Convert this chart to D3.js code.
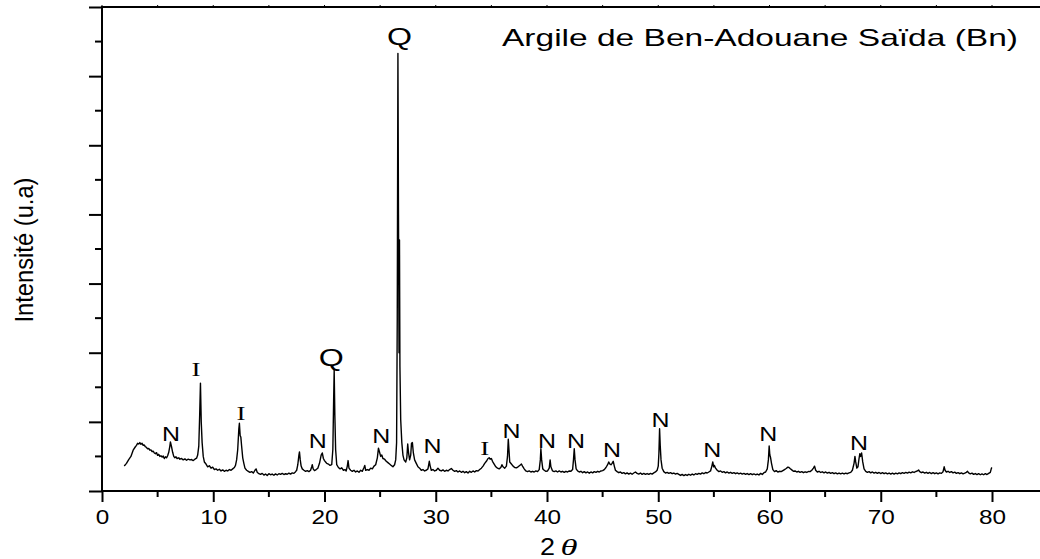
<!DOCTYPE html>
<html>
<head>
<meta charset="utf-8">
<script src="https://cdn.jsdelivr.net/npm/d3@7"></script>
<style>
  body { margin: 0; background: #fff; }
  svg { display: block; }
</style>
</head>
<body>
<svg id="chart" width="1040" height="559"></svg>
<script>
// XRD scan, [2theta, intensity (a.u.)]
var scan = [
[2.0,362],[2.2,400],[2.4,455],[2.6,500],[2.8,590],[3.0,640],[3.1,660],[3.2,690],[3.3,680],[3.4,700],[3.5,675],[3.6,690],[3.7,660],[3.8,665],[3.9,640],[4.0,630],[4.1,610],[4.2,615],[4.3,590],[4.4,595],[4.5,570],[4.6,575],[4.7,550],[4.8,540],[4.9,555],[5.0,515],[5.1,530],[5.2,500],[5.3,510],[5.4,490],[5.5,505],[5.6,470],[5.7,495],[5.8,480],[5.9,510],[6.0,560],[6.1,650],[6.15,710],[6.25,640],[6.35,560],[6.45,500],[6.55,480],[6.65,495],[6.75,470],[6.9,480],[7.0,460],[7.15,470],[7.3,450],[7.45,465],[7.6,445],[7.75,460],[7.9,450],[8.05,455],[8.2,440],[8.35,460],[8.5,475],[8.6,520],[8.7,650],[8.78,1100],[8.85,1560],[8.92,1000],[9.0,700],[9.1,500],[9.2,420],[9.35,390],[9.5,350],[9.65,365],[9.8,330],[9.95,345],
[10.1,310],[10.25,320],[10.4,300],[10.55,315],[10.7,290],[10.85,305],[11.0,285],[11.15,300],[11.3,290],[11.45,310],[11.6,300],[11.75,320],[11.9,340],[12.0,370],[12.1,450],[12.2,600],[12.3,900],[12.35,980],[12.42,800],[12.48,780],[12.55,650],[12.65,480],[12.75,400],[12.85,330],[13.0,300],[13.15,285],[13.3,270],[13.45,280],[13.6,260],[13.75,300],[13.85,320],[13.95,270],[14.1,250],[14.25,240],[14.4,255],[14.55,230],[14.7,245],[14.85,225],[15.0,250],[15.15,235],[15.3,245],[15.45,228],[15.6,248],[15.75,232],[15.9,250],[16.05,240],[16.2,255],[16.35,238],[16.5,250],[16.65,242],[16.8,258],[16.95,245],[17.1,262],[17.25,255],[17.4,280],[17.5,300],[17.6,380],[17.7,520],[17.75,565],[17.82,450],[17.9,360],[18.0,320],[18.15,300],[18.3,285],[18.45,295],[18.6,280],[18.75,300],[18.85,350],[18.9,380],[18.98,320],[19.1,295],[19.25,310],[19.4,330],[19.55,400],[19.7,520],[19.8,550],[19.9,470],
[20.0,440],[20.1,420],[20.2,400],[20.35,390],[20.5,370],[20.65,380],[20.75,600],[20.82,1300],[20.87,1750],[20.93,1100],[21.0,600],[21.1,380],[21.25,340],[21.4,320],[21.55,335],[21.7,300],[21.85,310],[21.95,290],[22.05,360],[22.12,440],[22.2,330],[22.35,300],[22.5,285],[22.65,300],[22.8,275],[22.95,290],[23.1,270],[23.25,300],[23.4,285],[23.55,340],[23.62,370],[23.7,300],[23.85,310],[24.0,300],[24.15,330],[24.3,320],[24.45,360],[24.6,380],[24.75,480],[24.85,620],[24.95,560],[25.05,500],[25.15,520],[25.25,470],[25.4,460],[25.55,430],[25.7,410],[25.85,390],[26.0,370],[26.15,350],[26.3,380],[26.4,450],[26.48,700],[26.54,2500],[26.6,6330],[26.65,4000],[26.7,2000],[26.74,3630],[26.78,1800],[26.85,1030],[26.95,700],[27.05,520],[27.15,450],[27.3,420],[27.4,480],[27.48,680],[27.55,560],[27.65,450],[27.75,520],[27.82,690],[27.9,700],[27.98,560],[28.1,450],[28.25,400],[28.4,350],[28.55,330],[28.7,300],[28.85,310],[29.0,290],[29.15,300],[29.3,320],[29.42,430],[29.5,360],[29.6,300],[29.75,310],[29.9,290],
[30.05,300],[30.2,330],[30.35,300],[30.5,290],[30.65,305],[30.8,285],[30.95,300],[31.1,290],[31.25,310],[31.4,325],[31.55,300],[31.7,285],[31.85,295],[32.0,275],[32.15,290],[32.3,270],[32.45,285],[32.6,265],[32.75,280],[32.9,260],[33.05,285],[33.2,270],[33.35,290],[33.5,275],[33.65,295],[33.8,290],[33.95,310],[34.1,330],[34.25,360],[34.4,400],[34.55,430],[34.7,470],[34.8,480],[34.9,460],[35.0,470],[35.1,430],[35.25,390],[35.4,350],[35.55,330],[35.7,320],[35.85,340],[35.95,380],[36.05,350],[36.2,330],[36.35,360],[36.45,500],[36.52,750],[36.58,600],[36.65,420],[36.8,390],[36.95,360],[37.1,340],[37.25,335],[37.4,350],[37.55,370],[37.7,390],[37.8,360],[37.95,320],[38.1,290],[38.25,280],[38.4,290],[38.55,275],[38.7,285],[38.85,275],[39.0,290],[39.15,280],[39.3,310],[39.4,450],[39.45,610],[39.52,450],[39.62,320],[39.75,300],[39.9,285],
[40.05,290],[40.2,330],[40.28,450],[40.35,350],[40.5,290],[40.65,280],[40.8,290],[40.95,275],[41.1,290],[41.25,275],[41.4,285],[41.55,270],[41.7,285],[41.85,275],[42.0,290],[42.15,285],[42.3,310],[42.38,450],[42.45,610],[42.52,450],[42.62,320],[42.75,290],[42.9,275],[43.05,285],[43.2,265],[43.35,280],[43.5,262],[43.65,275],[43.8,258],[43.95,275],[44.1,262],[44.25,280],[44.4,270],[44.55,285],[44.7,275],[44.85,290],[45.0,295],[45.15,310],[45.3,340],[45.45,380],[45.55,420],[45.65,390],[45.75,380],[45.85,400],[45.95,430],[46.05,360],[46.15,300],[46.3,280],[46.45,265],[46.6,275],[46.75,255],[46.9,265],[47.05,248],[47.2,262],[47.35,245],[47.5,258],[47.65,242],[47.8,260],[47.95,275],[48.1,255],[48.25,245],[48.4,260],[48.55,240],[48.7,255],[48.85,240],[49.0,252],[49.15,240],[49.3,255],[49.45,245],[49.6,262],[49.75,275],[49.9,300],
[50.0,360],[50.06,550],[50.12,900],[50.18,650],[50.25,450],[50.35,330],[50.5,280],[50.65,260],[50.8,270],[50.95,255],[51.1,265],[51.25,250],[51.4,260],[51.55,245],[51.7,255],[51.85,240],[52.0,225],[52.15,240],[52.3,222],[52.45,238],[52.6,225],[52.75,242],[52.9,228],[53.05,245],[53.2,232],[53.35,250],[53.5,240],[53.65,255],[53.8,245],[53.95,262],[54.1,250],[54.25,268],[54.4,260],[54.55,275],[54.7,290],[54.82,360],[54.9,420],[54.98,350],[55.05,370],[55.15,330],[55.3,300],[55.45,280],[55.6,290],[55.75,270],[55.9,280],[56.05,262],[56.2,275],[56.35,258],[56.5,270],[56.65,255],[56.8,265],[56.95,250],[57.1,262],[57.25,248],[57.4,258],[57.55,245],[57.7,255],[57.85,242],[58.0,252],[58.15,238],[58.3,250],[58.45,236],[58.6,248],[58.75,235],[58.9,245],[59.05,232],[59.2,255],[59.35,240],[59.5,265],[59.65,275],[59.8,320],[59.9,450],[59.97,650],
[60.03,520],[60.1,480],[60.18,400],[60.3,310],[60.45,280],[60.6,295],[60.75,275],[60.9,285],[61.05,280],[61.2,295],[61.35,310],[61.5,325],[61.65,345],[61.75,340],[61.85,325],[62.0,305],[62.15,285],[62.3,290],[62.45,275],[62.6,285],[62.75,270],[62.9,280],[63.05,265],[63.2,278],[63.35,268],[63.5,282],[63.65,280],[63.8,300],[63.95,330],[64.05,360],[64.15,300],[64.3,275],[64.45,285],[64.6,268],[64.75,278],[64.9,262],[65.05,275],[65.2,258],[65.35,270],[65.5,255],[65.65,265],[65.8,250],[65.95,262],[66.1,248],[66.25,260],[66.4,248],[66.55,258],[66.7,246],[66.85,258],[67.0,250],[67.15,262],[67.3,270],[67.45,300],[67.6,400],[67.68,500],[67.75,420],[67.85,330],[67.95,350],[68.05,470],[68.12,540],[68.2,500],[68.28,550],[68.38,420],[68.5,320],[68.65,285],[68.8,270],[68.95,280],[69.1,262],[69.25,275],[69.4,258],[69.55,270],[69.7,255],[69.85,268],
[70.0,252],[70.15,265],[70.3,250],[70.45,262],[70.6,248],[70.75,260],[70.9,245],[71.05,258],[71.2,245],[71.35,258],[71.5,248],[71.65,262],[71.8,250],[71.95,265],[72.1,255],[72.25,268],[72.4,258],[72.55,272],[72.7,262],[72.85,278],[73.0,268],[73.15,282],[73.3,290],[73.4,305],[73.5,280],[73.65,265],[73.8,275],[73.95,258],[74.1,270],[74.25,255],[74.4,268],[74.55,252],[74.7,265],[74.85,250],[75.0,262],[75.15,248],[75.3,262],[75.45,255],[75.6,280],[75.7,350],[75.78,300],[75.9,275],[76.05,285],[76.2,268],[76.35,280],[76.5,262],[76.65,272],[76.8,255],[76.95,265],[77.1,250],[77.25,262],[77.4,248],[77.55,258],[77.7,270],[77.8,285],[77.9,262],[78.05,248],[78.2,258],[78.35,240],[78.5,252],[78.65,238],[78.8,250],[78.95,235],[79.1,248],[79.25,235],[79.4,250],[79.55,238],[79.7,255],[79.85,270],[79.95,330],[80.0,340]
];

// phase labels: text, 2theta, intensity at the text baseline
var labelText  = ['N', 'I', 'I', 'N', 'Q', 'N', 'Q', 'N', 'I', 'N', 'N', 'N', 'N', 'N', 'N', 'N', 'N'];
var labelTheta = [6.2, 8.45, 12.5, 19.4, 20.6, 25.1, 26.74, 29.7, 34.4, 36.8, 40.0, 42.6, 45.85, 50.2, 54.85, 59.9, 68.05];
var labelInt   = [723, 1663, 1027, 622, 1808, 694, 6449, 549, 521, 766, 622, 622, 492, 925, 492, 723, 593];

var xMajor = [0, 10, 20, 30, 40, 50, 60, 70, 80];
var xMinor = [5, 15, 25, 35, 45, 55, 65, 75, 85];
var yMajor = [0, 1000, 2000, 3000, 4000, 5000, 6000, 7000];
var yMinor = [500, 1500, 2500, 3500, 4500, 5500, 6500];

var title = 'Argile de Ben-Adouane Saïda (Bn)';
var yTitle = 'Intensité (u.a)';

var svg = d3.select('#chart');
var left = 102, plotTop = 7, bottom = 491;

var x = d3.scaleLinear().domain([0, 85]).range([left, left + 85 * 11.125]);
var y = d3.scaleLinear().domain([0, 7000]).range([bottom, plotTop]);

var sans = 'Liberation Sans, Arial, sans-serif';
var serif = 'Liberation Serif, Times New Roman, serif';

// frame lines
svg.append('line').attr('x1', left).attr('x2', 1040).attr('y1', bottom).attr('y2', bottom)
    .attr('stroke', '#000').attr('stroke-width', 2);
svg.append('line').attr('x1', left).attr('x2', 1040).attr('y1', plotTop).attr('y2', plotTop)
    .attr('stroke', '#000').attr('stroke-width', 2);
svg.append('line').attr('x1', left).attr('x2', left).attr('y1', plotTop - 1).attr('y2', bottom + 1)
    .attr('stroke', '#000').attr('stroke-width', 2);

// bottom axis
var gx = svg.append('g').attr('transform', 'translate(0,' + bottom + ')');
gx.call(d3.axisBottom(x).tickValues(xMajor).tickSize(11).tickSizeOuter(0).tickPadding(8).tickFormat(d3.format('d')));
gx.select('.domain').remove();
gx.selectAll('line').attr('stroke-width', 2);
gx.selectAll('text').attr('font-family', sans).attr('font-size', 20).attr('fill', '#000')
    .attr('textLength', d => 13.5 * String(d).length).attr('lengthAdjust', 'spacingAndGlyphs');
gx.selectAll('.minor').data(xMinor).join('line').attr('class', 'minor')
    .attr('x1', d => x(d)).attr('x2', d => x(d)).attr('y1', 0).attr('y2', 6)
    .attr('stroke', '#000').attr('stroke-width', 2);

// top ticks
svg.append('g').selectAll('line').data(xMajor.concat(xMinor)).join('line')
    .attr('x1', d => x(d)).attr('x2', d => x(d)).attr('y1', plotTop).attr('y2', plotTop - 2)
    .attr('stroke', '#000').attr('stroke-width', 1);

// left axis
var gy = svg.append('g').attr('transform', 'translate(' + left + ',0)');
gy.call(d3.axisLeft(y).tickValues(yMajor).tickSize(13).tickSizeOuter(0).tickFormat(''));
gy.select('.domain').remove();
gy.selectAll('line').attr('stroke-width', 2);
gy.selectAll('.minor').data(yMinor).join('line').attr('class', 'minor')
    .attr('x1', 0).attr('x2', -7).attr('y1', d => y(d)).attr('y2', d => y(d))
    .attr('stroke', '#000').attr('stroke-width', 2);

// scan line
var line = d3.line().x(d => x(d[0])).y(d => y(d[1]));
svg.append('path').datum(scan).attr('d', line)
    .attr('fill', 'none').attr('stroke', '#000').attr('stroke-width', 1.4)
    .attr('stroke-linejoin', 'round');

// peak labels
svg.append('g').selectAll('text').data(labelText).join('text')
    .attr('x', (d, i) => x(labelTheta[i]))
    .attr('y', (d, i) => y(labelInt[i]))
    .attr('text-anchor', 'middle')
    .attr('font-family', d => d === 'I' ? serif : sans)
    .attr('font-size', d => d === 'Q' ? 23 : (d === 'I' ? 19 : 20))
    .attr('textLength', d => d === 'Q' ? 25 : (d === 'I' ? 9 : 18))
    .attr('lengthAdjust', 'spacingAndGlyphs')
    .text(d => d);

// title
svg.append('text').attr('x', 502).attr('y', 46)
    .attr('font-family', sans).attr('font-size', 24)
    .attr('textLength', 516).attr('lengthAdjust', 'spacingAndGlyphs')
    .text(title);

// axis titles
svg.append('text').attr('x', 547.5).attr('y', 555).attr('text-anchor', 'middle')
    .attr('font-family', sans).attr('font-size', 24)
    .attr('textLength', 15).attr('lengthAdjust', 'spacingAndGlyphs').text('2');
svg.append('text').attr('x', 569).attr('y', 555).attr('text-anchor', 'middle')
    .attr('font-family', serif).attr('font-style', 'italic').attr('font-size', 24)
    .attr('textLength', 17).attr('lengthAdjust', 'spacingAndGlyphs').text('θ');

svg.append('text').attr('transform', 'translate(33,250) rotate(-90)')
    .attr('text-anchor', 'middle')
    .attr('font-family', 'Liberation Sans Narrow, Arial Narrow, ' + sans)
    .attr('font-size', 26).attr('textLength', 145).attr('lengthAdjust', 'spacingAndGlyphs')
    .text(yTitle);
</script>
</body>
</html>
